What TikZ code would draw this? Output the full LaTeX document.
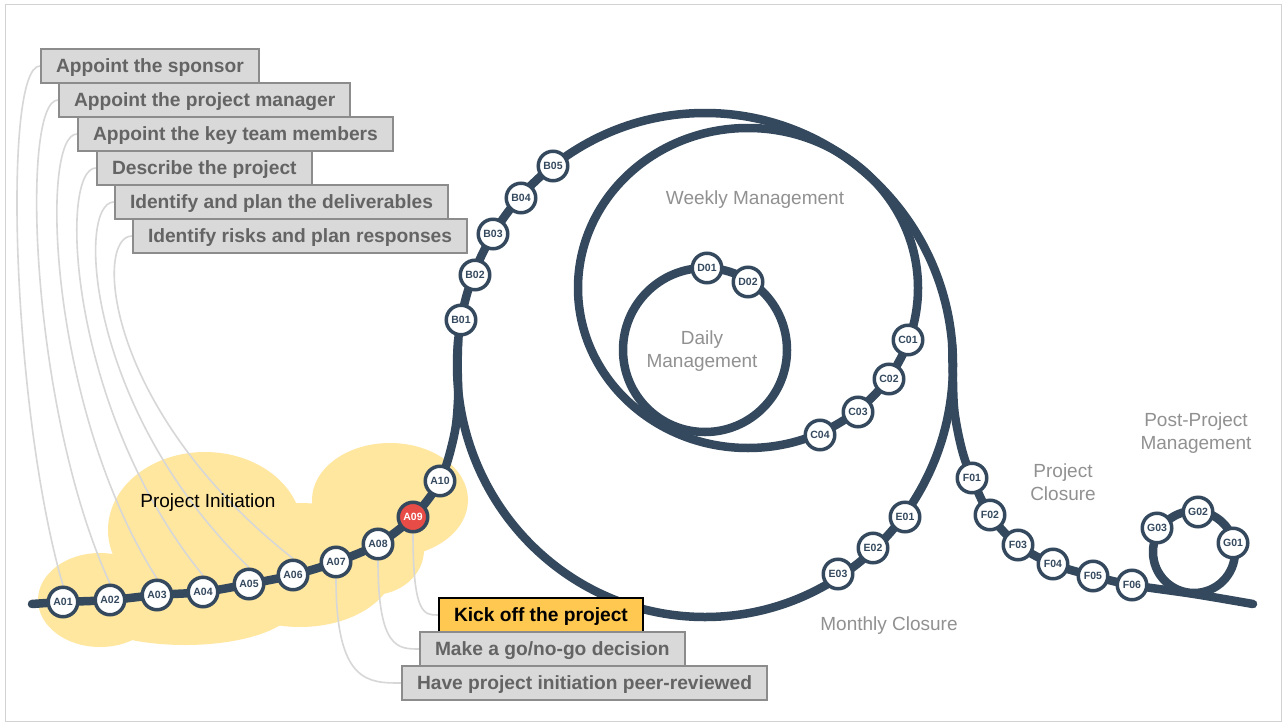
\documentclass[tikz,border=0pt]{standalone}
\usepackage{fontspec}
\setmainfont{Liberation Sans}
\usetikzlibrary{backgrounds}
\definecolor{track}{RGB}{52,73,94}
\definecolor{redn}{RGB}{232,76,70}
\definecolor{cloudc}{RGB}{255,231,160}
\definecolor{connc}{RGB}{215,215,215}
\definecolor{boxfill}{RGB}{217,217,217}
\definecolor{boxdraw}{RGB}{140,140,140}
\definecolor{boxtext}{RGB}{100,100,100}
\definecolor{kickc}{RGB}{255,200,80}
\definecolor{phasegray}{RGB}{145,145,145}
\definecolor{framec}{RGB}{210,210,210}
\begin{document}
\begin{tikzpicture}[x=1pt,y=-1pt,
  stn/.style={circle, draw=track, fill=white, line width=3.5pt, minimum size=29.5pt, inner sep=0pt,
    font=\fontsize{10.5}{12}\selectfont\bfseries, text=track},
  hot/.style={stn, fill=redn, text=white},
  trk/.style={draw=track, line width=8.5pt, line cap=round, line join=round},
  loopline/.style={draw=track, line width=8.5pt},
  conn/.style={draw=connc, line width=1.6pt},
  taskbox/.style={anchor=west, draw=boxdraw, fill=boxfill, line width=2pt, text=boxtext,
    font=\fontsize{19.2}{22}\selectfont\bfseries, minimum height=34pt, inner xsep=15pt, inner ysep=0pt,
    text height=13.6pt, text depth=0pt},
  kickbox/.style={taskbox, fill=kickc, draw=black, text=black},
  phase/.style={text=phasegray, font=\fontsize{19}{23}\selectfont, align=center},
]
\useasboundingbox (0,0) rectangle (1287,725);

% station coordinates
\coordinate (pA01) at (63,602);
\coordinate (pA02) at (110,600);
\coordinate (pA03) at (157,595);
\coordinate (pA04) at (203,592);
\coordinate (pA05) at (249,584);
\coordinate (pA06) at (293,575);
\coordinate (pA07) at (336,562);
\coordinate (pA08) at (378,544);
\coordinate (pA09) at (413,517);
\coordinate (pA10) at (440,481);
\coordinate (pF01) at (972,478);
\coordinate (pF02) at (990,515);
\coordinate (pF03) at (1018,545);
\coordinate (pF04) at (1053,564);
\coordinate (pF05) at (1093,576);
\coordinate (pF06) at (1132,585);
\coordinate (start) at (32,604);
\coordinate (finish) at (1253,604);

% loops
\draw[loopline] (705,365) ellipse [x radius=248pt, y radius=252pt];
\draw[loopline] (748,288) ellipse [x radius=170pt, y radius=160pt];
\draw[loopline] (705,350) circle [radius=82pt];
\draw[loopline] (1194,552) circle [radius=41pt];

% main track
\draw[trk] plot[smooth, tension=0.55] coordinates {(start) (pA01) (pA02) (pA03) (pA04) (pA05) (pA06) (pA07) (pA08) (pA09) (pA10) (454,436) (458,400) (457.6,365) (458.2,340)};
\draw[trk] plot[smooth, tension=0.55] coordinates {(952.2,345) (952.8,375) (954.5,412) (962,450) (pF01) (pF02) (pF03) (pF04) (pF05) (pF06) (1194,594) (finish)};

% stations
\node[stn] (A01) at (pA01) {A01};
\node[stn] (A02) at (pA02) {A02};
\node[stn] (A03) at (pA03) {A03};
\node[stn] (A04) at (pA04) {A04};
\node[stn] (A05) at (pA05) {A05};
\node[stn] (A06) at (pA06) {A06};
\node[stn] (A07) at (pA07) {A07};
\node[stn] (A08) at (pA08) {A08};
\node[hot] (A09) at (pA09) {A09};
\node[stn] (A10) at (pA10) {A10};
\node[stn] (B01) at (461,320) {B01};
\node[stn] (B02) at (475,275) {B02};
\node[stn] (B03) at (493,234) {B03};
\node[stn] (B04) at (521,198) {B04};
\node[stn] (B05) at (553,166) {B05};
\node[stn] (C01) at (908,340) {C01};
\node[stn] (C02) at (889,379) {C02};
\node[stn] (C03) at (858,412) {C03};
\node[stn] (C04) at (820,435) {C04};
\node[stn] (D01) at (707,268) {D01};
\node[stn] (D02) at (748,282) {D02};
\node[stn] (E01) at (905,517) {E01};
\node[stn] (E02) at (873,548) {E02};
\node[stn] (E03) at (838,574) {E03};
\node[stn] (F01) at (pF01) {F01};
\node[stn] (F02) at (pF02) {F02};
\node[stn] (F03) at (pF03) {F03};
\node[stn] (F04) at (pF04) {F04};
\node[stn] (F05) at (pF05) {F05};
\node[stn] (F06) at (pF06) {F06};
\node[stn] (G01) at (1233,543) {G01};
\node[stn] (G02) at (1198,512) {G02};
\node[stn] (G03) at (1157,528) {G03};

% task boxes
\node[taskbox] (t1) at (40,66) {Appoint the sponsor};
\node[taskbox] (t2) at (58,100) {Appoint the project manager};
\node[taskbox] (t3) at (77,134) {Appoint the key team members};
\node[taskbox] (t4) at (96,168) {Describe the project};
\node[taskbox] (t5) at (114,202) {Identify and plan the deliverables};
\node[taskbox] (t6) at (132,236) {Identify risks and plan responses};
\node[kickbox] (t7) at (438,615) {Kick off the project};
\node[taskbox] (t8) at (419,649) {Make a go/no-go decision};
\node[taskbox] (t9) at (401,683) {Have project initiation peer-reviewed};

% phase labels
\node[phase] (wl) at (755,200) {Weekly Management};
\node[phase] (dl) at (702,351) {Daily\\Management};
\node[phase] (ml) at (889,626) {Monthly Closure};
\node[phase] (pcl) at (1063,482) {Project\\Closure};
\node[phase] (ppl) at (1196,433) {Post-Project\\Management};

\begin{scope}[on background layer]
\fill[white] (0,0) rectangle (1287,725);
\draw[framec, line width=1pt] (5,5) rectangle (1281,721);
\begin{scope}[cloudc]
\fill (100,600) ellipse [x radius=62pt, y radius=47pt];
\fill (205,530) ellipse [x radius=97pt, y radius=78pt];
\fill (185,605) ellipse [x radius=110pt, y radius=40pt];
\fill (300,565) ellipse [x radius=95pt, y radius=62pt];
\fill (390,500) ellipse [x radius=78pt, y radius=57pt];
\fill (372,550) ellipse [x radius=52pt, y radius=45pt];
\end{scope}
% connectors
\draw[conn] (t1.west) .. controls (2,66) and (12,410) .. (A01.north);
\draw[conn] (t2.west) .. controls (20,100) and (30,410) .. (A02.north);
\draw[conn] (t3.west) .. controls (39,134) and (49,410) .. (A03.north);
\draw[conn] (t4.west) .. controls (58,168) and (68,410) .. (A04.north);
\draw[conn] (t5.west) .. controls (76,202) and (86,410) .. (A05.north);
\draw[conn] (t6.west) .. controls (94,236) and (104,410) .. (A06.north);
\draw[conn] (A07.south) .. controls (336,683) and (368,683) .. (t9.west);
\draw[conn] (A08.south) .. controls (378,649) and (398,649) .. (t8.west);
\draw[conn] (A09.south) .. controls (413,615) and (424,615) .. (t7.west);
\node[font=\fontsize{19}{23}\selectfont, text=black] (pil) at (208,503) {Project Initiation};
\end{scope}
\end{tikzpicture}
\end{document}
